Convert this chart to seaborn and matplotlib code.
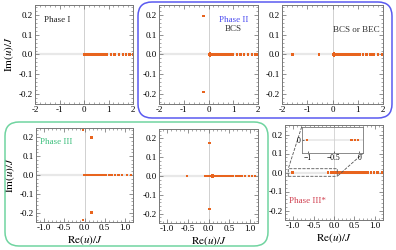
import matplotlib
matplotlib.use('Agg')
import matplotlib.pyplot as plt
import seaborn as sns
from matplotlib.patches import FancyBboxPatch
from matplotlib.ticker import MultipleLocator, FormatStrFormatter

# data: roots u/J in the complex plane
p1_re = [0.0, 0.03, 0.06, 0.09, 0.12, 0.15, 0.18, 0.21, 0.25, 0.29, 0.33, 0.37, 0.41, 0.45, 0.5,
         0.55, 0.6, 0.65, 0.7, 0.76, 0.82, 0.88, 0.94, 1.1, 1.24, 1.42, 1.6, 1.72, 1.86, 2.0]
p1_im = [0.0] * len(p1_re)

p2_re = [-0.2, -0.2, 0.05, 0.05,
         0.02, 0.04, 0.06, 0.08, 0.1, 0.13, 0.16, 0.2, 0.24, 0.28, 0.32, 0.37, 0.42, 0.47, 0.52,
         0.58, 0.64, 0.7, 0.76, 0.82, 0.88, 0.94, 0.98, 1.14, 1.3, 1.43, 1.6, 1.75, 1.88, 1.97]
p2_im = [0.195, -0.19, 0.005, -0.005] + [0.0] * 30

p3_re = [0.05, 0.05,
         -1.58, -0.53, 0.01, 0.03, 0.05, 0.07, 0.09, 0.12, 0.15, 0.19, 0.23, 0.28, 0.33, 0.38,
         0.44, 0.5, 0.56, 0.63, 0.7, 0.77, 0.85, 0.93, 1.0, 1.08, 1.2, 1.35, 1.5, 1.62, 1.8, 1.96]
p3_im = [0.005, -0.005] + [0.0] * 30

p4_re = [-0.04, 0.17, 0.17, -0.04,
         0.0, 0.02, 0.04, 0.06, 0.08, 0.1, 0.12, 0.14, 0.16, 0.19, 0.22, 0.25, 0.28, 0.32, 0.36,
         0.41, 0.47, 0.53, 0.6, 0.67, 0.75, 0.84, 0.93, 1.05, 1.15]
p4_im = [0.24, 0.2, -0.2, -0.24] + [0.0] * 25

p5_re = [0.02, 0.02, 0.1, 0.1,
         -0.52, -0.08, -0.04, 0.0, 0.03, 0.06, 0.08, 0.1, 0.12, 0.14, 0.17, 0.2, 0.24, 0.28, 0.32,
         0.37, 0.42, 0.47, 0.53, 0.59, 0.66, 0.73, 0.8, 0.88, 0.98, 1.05, 1.13]
p5_im = [0.175, -0.175, 0.004, -0.004] + [0.0] * 27

p6_re = [0.05, 0.05,
         -1.02, -0.15, -0.08, -0.02, 0.02, 0.05, 0.08, 0.11, 0.14, 0.18, 0.22, 0.26, 0.3, 0.35,
         0.4, 0.45, 0.5, 0.56, 0.62, 0.68, 0.75, 0.82, 0.9, 0.98, 1.07, 1.17]
p6_im = [0.004, -0.004] + [0.0] * 26

# zoomed window of Phase III*
inset_re = [-1.02, -0.15, -0.08, -0.02]
inset_im = [0.0, 0.0, 0.0, 0.0]

orange = '#e8641e'
W, H = 396, 250

plt.rcParams['font.family'] = ['Liberation Serif', 'DejaVu Serif']
plt.rcParams['mathtext.fontset'] = 'stix'

fig = plt.figure(figsize=(W / 100, H / 100), dpi=100)


def px_rect(l, t, r, b):
    return [l / W, 1 - b / H, (r - l) / W, (b - t) / H]


def style(ax, xlim, xmaj, xmin, xfmt):
    ax.set_xlim(*xlim)
    ax.set_ylim(-0.25, 0.25)
    ax.axhline(0, color='#e8e8e8', lw=1.6, zorder=0)
    ax.axvline(0, color='#d0d0d0', lw=0.7, zorder=0)
    ax.xaxis.set_major_locator(MultipleLocator(xmaj))
    ax.xaxis.set_minor_locator(MultipleLocator(xmin))
    ax.xaxis.set_major_formatter(FormatStrFormatter(xfmt))
    ax.yaxis.set_major_locator(MultipleLocator(0.1))
    ax.yaxis.set_minor_locator(MultipleLocator(0.02))
    ax.yaxis.set_major_formatter(FormatStrFormatter('%.1f'))
    ax.tick_params(which='both', direction='in', top=True, right=True,
                   labelsize=6.5, pad=1.5, color='#666666')
    ax.tick_params(which='major', length=3, width=0.5)
    ax.tick_params(which='minor', length=1.5, width=0.4)
    for s in ax.spines.values():
        s.set_color('#777777')
        s.set_linewidth(0.7)
    ax.set_xlabel('')
    ax.set_ylabel('')


def dots(ax, re, im, s=3):
    sns.scatterplot(x=re, y=im, ax=ax, marker='s', s=s, color=orange,
                    edgecolor='none', linewidth=0, zorder=3)


panels = [
    (px_rect(35, 5, 133, 104), p1_re, p1_im, (-2, 2), 1, 0.2, '%d'),
    (px_rect(159, 5, 258, 104), p2_re, p2_im, (-2, 2), 1, 0.2, '%d'),
    (px_rect(282, 5, 383, 104), p3_re, p3_im, (-2, 2), 1, 0.2, '%d'),
    (px_rect(36, 128, 133, 222), p4_re, p4_im, (-1.2, 1.2), 0.5, 0.1, '%.1f'),
    (px_rect(159, 129, 258, 223), p5_re, p5_im, (-1.2, 1.2), 0.5, 0.1, '%.1f'),
    (px_rect(285, 125, 383, 220), p6_re, p6_im, (-1.2, 1.2), 0.5, 0.1, '%.1f'),
]
axes = []
for rect, re, im, xlim, xmaj, xmin, xfmt in panels:
    ax = fig.add_axes(rect)
    dots(ax, re, im)
    style(ax, xlim, xmaj, xmin, xfmt)
    axes.append(ax)

ylab = r'$\mathrm{Im}(u)/J$'
xlab = r'$\mathrm{Re}(u)/J$'
for ax in (axes[0], axes[3]):
    ax.set_ylabel(ylab, fontsize=8, labelpad=2)
for ax in axes[3:]:
    ax.set_xlabel(xlab, fontsize=8, labelpad=1)

# phase labels
axes[0].text(0.09, 0.85, 'Phase I', transform=axes[0].transAxes, fontsize=6.5,
             va='center', color='#222222')
axes[1].text(0.75, 0.85, 'Phase II', transform=axes[1].transAxes, fontsize=6.5,
             ha='center', va='center', color='#4a4af0')
axes[1].text(0.75, 0.76, 'BCS', transform=axes[1].transAxes, fontsize=6.5,
             ha='center', va='center', color='#333333')
axes[2].text(0.74, 0.75, 'BCS or BEC', transform=axes[2].transAxes, fontsize=6.5,
             ha='center', va='center', color='#333333')
axes[3].text(0.04, 0.85, 'Phase III', transform=axes[3].transAxes, fontsize=6.5,
             va='center', color='#3cbf7c')
axes[5].text(0.23, 0.2, 'Phase III*', transform=axes[5].transAxes, fontsize=6.5,
             ha='center', va='center', color='#d04050')

# zoom inset for Phase III*
ins = axes[5].inset_axes([0.17, 0.705, 0.63, 0.275])
dots(ins, inset_re, inset_im, s=3)
ins.set_xlim(-1.12, 0.08)
ins.set_ylim(-0.02, 0.02)
ins.axhline(0, color='#e8e8e8', lw=1.2, zorder=0)
ins.axvline(-0.5, color='#d0d0d0', lw=0.6, zorder=0)
ins.set_xticks([-1, -0.5, 0])
ins.set_xticklabels(['\u22121', '\u22120.5', '0'])
ins.set_yticks([0])
ins.set_yticklabels(['0'])
ins.tick_params(labelsize=5.5, pad=1, length=1.5, width=0.4, direction='in')
for s in ins.spines.values():
    s.set_color('#777777')
    s.set_linewidth(0.6)
ins.set_xlabel('')
ins.set_ylabel('')
axes[5].indicate_inset_zoom(ins, edgecolor='#555555', linestyle='--', linewidth=0.6, alpha=1)

# rounded group boxes (inch coordinates)
blue_box = FancyBboxPatch((1.38, 1.32), 2.54, 1.16, boxstyle='round,pad=0,rounding_size=0.14',
                          transform=fig.dpi_scale_trans, fill=False, edgecolor='#5a5af0', lw=1.1)
green_box = FancyBboxPatch((0.05, 0.04), 2.63, 1.24, boxstyle='round,pad=0,rounding_size=0.14',
                           transform=fig.dpi_scale_trans, fill=False, edgecolor='#70d4a0', lw=1.1)
fig.patches.extend([blue_box, green_box])

fig.savefig('out.png', dpi=100)
